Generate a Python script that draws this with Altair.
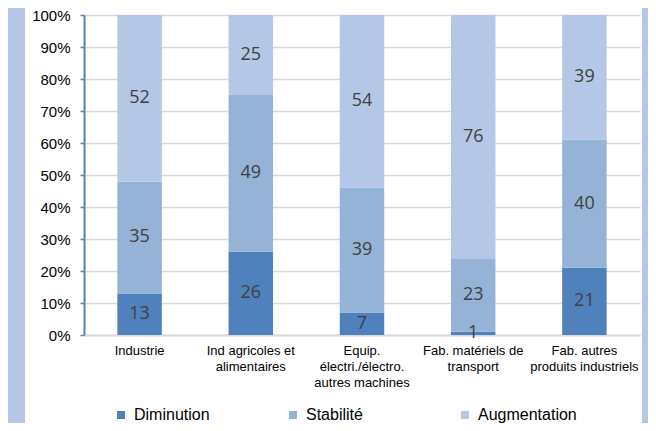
import altair as alt
import pandas as pd

categories = [
    "Industrie",
    "Ind agricoles et\nalimentaires",
    "Equip.\nélectri./électro.\nautres machines",
    "Fab. matériels de\ntransport",
    "Fab. autres\nproduits industriels",
]
series = ["Diminution", "Stabilité", "Augmentation"]
diminution = [13, 26, 7, 1, 21]
stabilite = [35, 49, 39, 23, 40]
augmentation = [52, 25, 54, 76, 39]
colors = ["#4f81bd", "#95b3d7", "#b4c7e7"]
y_ticks = [0, 10, 20, 30, 40, 50, 60, 70, 80, 90, 100]

rows = []
for s_idx, (s, vals) in enumerate(zip(series, [diminution, stabilite, augmentation])):
    for c, v in zip(categories, vals):
        rows.append({"cat": c, "serie": s, "idx": s_idx, "value": v})
df = pd.DataFrame(rows)

W, H = 556, 320
PL, PT, PR = 76, 7, 8
TOTAL_H = 415
PB = TOTAL_H - PT - H

base = alt.Chart(df).transform_stack(
    stack="value", as_=["y0", "y1"], groupby=["cat"], sort=[alt.SortField("idx", order="ascending")]
).transform_calculate(mid="(datum.y0 + datum.y1) / 2")

x_axis = alt.Axis(
    labelExpr="split(datum.label, '\\n')",
    labelAngle=0,
    labelFont="Liberation Sans",
    labelFontSize=13,
    labelColor="#000000",
    labelLineHeight=16,
    labelBaseline="top",
    labelPadding=9,
    labelOverlap=False,
    ticks=False,
    domainColor="#d9d9d9",
    domainWidth=2,
    grid=False,
)
x_scale = alt.Scale(paddingInner=0.6, paddingOuter=0.3)

y_axis = alt.Axis(
    values=y_ticks,
    tickCount=11,
    labelExpr="datum.value + '%'",
    labelFont="Liberation Sans",
    labelFontSize=15,
    labelColor="#000000",
    labelPadding=10,
    labelOverlap=False,
    tickSize=4,
    tickColor="#4f81bd",
    tickWidth=1.5,
    domainColor="#4f81bd",
    domainWidth=2,
    gridColor="#d9d9d9",
    gridWidth=1.5,
)
y_scale = alt.Scale(domain=[0, 100], nice=False)

bars = base.mark_bar().encode(
    x=alt.X("cat:N", sort=categories, title=None, scale=x_scale, axis=x_axis),
    y=alt.Y("y0:Q", title=None, scale=y_scale, axis=y_axis),
    y2="y1:Q",
    color=alt.Color(
        "serie:N",
        sort=series,
        scale=alt.Scale(domain=series, range=colors),
        legend=alt.Legend(
            title=None,
            orient="none",
            legendX=29,
            legendY=392,
            direction="horizontal",
            columns=3,
            gridAlign="all",
            columnPadding=52,
            symbolType="square",
            symbolSize=64,
            symbolStrokeWidth=0,
            labelFont="Liberation Sans",
            labelFontSize=16,
            labelColor="#000000",
            labelOffset=5,
        ),
    ),
    order=alt.Order("idx:Q", sort="ascending"),
)

labels = base.mark_text(font="Open Sans", fontSize=18, color="#404040", baseline="middle").encode(
    x=alt.X("cat:N", sort=categories, title=None, scale=x_scale, axis=x_axis),
    y=alt.Y("mid:Q", title=None, scale=y_scale, axis=y_axis),
    text=alt.Text("value:Q"),
)

stripe_df = pd.DataFrame({"k": [0]})
left_stripe = alt.Chart(stripe_df).mark_rect(color="#b4c7e7").encode(
    x=alt.value(-PL), x2=alt.value(-PL + 17), y=alt.value(-PT), y2=alt.value(TOTAL_H - PT)
)
right_stripe = alt.Chart(stripe_df).mark_rect(color="#b4c7e7").encode(
    x=alt.value(W + PR - 6), x2=alt.value(W + PR), y=alt.value(-PT), y2=alt.value(TOTAL_H - PT)
)

chart = alt.layer(left_stripe, right_stripe, bars, labels).properties(
    width=W,
    height=H,
    autosize=alt.AutoSizeParams(type="none"),
    padding={"left": PL, "top": PT, "right": PR, "bottom": PB},
    background="#ffffff",
).configure_view(stroke=None)

chart.save("out.html", embed_options={"renderer": "svg", "actions": False})
